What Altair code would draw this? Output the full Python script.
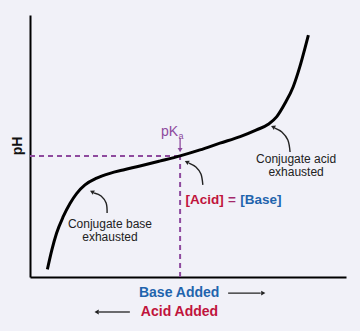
import altair as alt
import pandas as pd

# ---- data (x: amount added, 0-100 ; y: pH, 0-14) ----
curve_x = [5.5, 6.9, 8.4, 10.5, 12.7, 14.8, 17.4, 21.1, 25.3, 29.5, 34.8, 41.0, 47.5,
           53.8, 60.1, 66.5, 71.7, 75.4, 78.1, 80.7, 83.3, 85.4, 87.0, 88.1]
curve_ph = [0.41, 1.44, 2.34, 3.22, 3.94, 4.47, 4.92, 5.28, 5.54, 5.72, 5.93, 6.19, 6.47,
            6.79, 7.15, 7.50, 7.86, 8.16, 8.57, 9.28, 10.17, 11.24, 12.22, 12.93]

pka_x = 47.5
pka_ph = 6.47

arrow_ids = ["base"] * 4 + ["acid"] * 4 + ["mid"] * 4
arrow_order = [0, 1, 2, 3] * 3
arrow_x = [24.4, 24.1, 22.5, 20.3, 82.3, 81.6, 79.7, 77.5, 54.7, 54.1, 52.5, 50.3]
arrow_ph = [3.42, 3.95, 4.33, 4.49, 6.68, 7.32, 7.75, 7.96, 4.92, 5.50, 5.88, 6.09]

head_x = [19.8, 77.1, 49.8, 47.5, 73.6, 21.3]
head_ph = [4.54, 8.01, 6.13, 6.82, -0.86, -1.87]
head_angle = [295, 295, 295, 180, 90, 270]
head_color = ["#222222", "#222222", "#222222", "#8e4a9e", "#222222", "#222222"]

note_text = ["Conjugate base", "exhausted", "Conjugate acid", "exhausted"]
note_x = [25.3, 25.3, 84.2, 84.2]
note_ph = [2.83, 2.14, 6.31, 5.61]

eq_text = ["[Acid]", "=", "[Base]"]
eq_x = [61.3, 63.9, 66.5]
eq_align = ["right", "center", "left"]
eq_ph = [4.10, 4.10, 4.10]
eq_color = ["#c0143c", "#a3286b", "#1f64ad"]

bottom_text = ["Base Added", "Acid Added"]
bottom_x = [47.2, 47.3]
bottom_ph = [-0.86, -1.87]
bottom_color = ["#1f64ad", "#c0143c"]

bottom_arrow_x = [62.7, 31.6]
bottom_arrow_x2 = [73.0, 21.8]
bottom_arrow_ph = [-0.86, -1.87]

PURPLE = "#8e4a9e"
FONT = "Liberation Sans"

xs = alt.Scale(domain=[0, 100], nice=False, zero=False)
ys = alt.Scale(domain=[0, 14], nice=False, zero=False)
ax_x = alt.Axis(domain=True, domainColor="black", domainWidth=2, ticks=False, labels=False, grid=False, title=None)
ax_y = alt.Axis(domain=True, domainColor="black", domainWidth=2, ticks=False, labels=False, grid=False, title=None)

curve_df = pd.DataFrame({"x": curve_x, "ph": curve_ph})
curve = alt.Chart(curve_df).mark_line(color="black", strokeWidth=3, interpolate="monotone").encode(
    x=alt.X("x:Q", scale=xs, axis=ax_x),
    y=alt.Y("ph:Q", scale=ys, axis=ax_y),
)

dash_h = alt.Chart(pd.DataFrame({"x": [0], "x2": [pka_x], "ph": [pka_ph]})).mark_rule(
    color=PURPLE, strokeWidth=2, strokeDash=[5, 4]
).encode(x=alt.X("x:Q", scale=xs), x2="x2:Q", y=alt.Y("ph:Q", scale=ys))

dash_v = alt.Chart(pd.DataFrame({"x": [pka_x], "ph": [0], "ph2": [pka_ph]})).mark_rule(
    color=PURPLE, strokeWidth=2, strokeDash=[5, 4]
).encode(x=alt.X("x:Q", scale=xs), y=alt.Y("ph:Q", scale=ys), y2="ph2:Q")

pka_stem = alt.Chart(pd.DataFrame({"x": [pka_x], "ph": [7.43], "ph2": [6.86]})).mark_rule(
    color=PURPLE, strokeWidth=1.3
).encode(x=alt.X("x:Q", scale=xs), y=alt.Y("ph:Q", scale=ys), y2="ph2:Q")

pk_text = alt.Chart(pd.DataFrame({"x": [46.9], "ph": [7.75], "t": ["pK"]})).mark_text(
    color=PURPLE, fontSize=14, font=FONT, baseline="middle", align="right"
).encode(x=alt.X("x:Q", scale=xs), y=alt.Y("ph:Q", scale=ys), text="t:N")

a_text = alt.Chart(pd.DataFrame({"x": [47.0], "ph": [7.55], "t": ["a"]})).mark_text(
    color=PURPLE, fontSize=9, font=FONT, baseline="middle", align="left"
).encode(x=alt.X("x:Q", scale=xs), y=alt.Y("ph:Q", scale=ys), text="t:N")

arrows_df = pd.DataFrame({"id": arrow_ids, "o": arrow_order, "x": arrow_x, "ph": arrow_ph})
arrows = alt.Chart(arrows_df).mark_line(color="#222222", strokeWidth=1.4, interpolate="cardinal").encode(
    x=alt.X("x:Q", scale=xs), y=alt.Y("ph:Q", scale=ys), detail="id:N", order="o:Q"
)

heads_df = pd.DataFrame({"x": head_x, "ph": head_ph, "a": head_angle, "c": head_color})
heads = alt.Chart(heads_df).mark_point(shape="triangle", filled=True, size=24, opacity=1).encode(
    x=alt.X("x:Q", scale=xs), y=alt.Y("ph:Q", scale=ys),
    angle=alt.Angle("a:Q", scale=None), color=alt.Color("c:N", scale=None),
)

notes_df = pd.DataFrame({"t": note_text, "x": note_x, "ph": note_ph})
notes = alt.Chart(notes_df).mark_text(color="#222222", fontSize=12, font=FONT).encode(
    x=alt.X("x:Q", scale=xs), y=alt.Y("ph:Q", scale=ys), text="t:N"
)

eq_layers = []
for t, x, al, p, c in zip(eq_text, eq_x, eq_align, eq_ph, eq_color):
    eq_layers.append(
        alt.Chart(pd.DataFrame({"t": [t], "x": [x], "ph": [p]})).mark_text(
            fontSize=13.5, fontWeight="bold", font=FONT, align=al, color=c
        ).encode(x=alt.X("x:Q", scale=xs), y=alt.Y("ph:Q", scale=ys), text="t:N")
    )

bottom_df = pd.DataFrame({"t": bottom_text, "x": bottom_x, "ph": bottom_ph, "c": bottom_color})
bottom = alt.Chart(bottom_df).mark_text(fontSize=14, fontWeight="bold", font=FONT).encode(
    x=alt.X("x:Q", scale=xs), y=alt.Y("ph:Q", scale=ys), text="t:N", color=alt.Color("c:N", scale=None)
)

barrow_df = pd.DataFrame({"x": bottom_arrow_x, "x2": bottom_arrow_x2, "ph": bottom_arrow_ph})
barrows = alt.Chart(barrow_df).mark_rule(color="#222222", strokeWidth=1.3).encode(
    x=alt.X("x:Q", scale=xs), x2="x2:Q", y=alt.Y("ph:Q", scale=ys)
)

ph_label = alt.Chart(pd.DataFrame({"x": [-3.8], "ph": [7.0], "t": ["pH"]})).mark_text(
    fontSize=14, fontWeight="bold", font=FONT, angle=270, color="#111111"
).encode(x=alt.X("x:Q", scale=xs), y=alt.Y("ph:Q", scale=ys), text="t:N")

chart = alt.layer(
    dash_h, dash_v, curve, pka_stem, pk_text, a_text, arrows, heads, notes, *eq_layers, bottom, barrows, ph_label
).properties(
    width=316, height=262,
    autosize=alt.AutoSizeParams(type="none"),
    padding={"left": 30, "top": 15, "right": 14, "bottom": 54},
    background="#f1f1f8",
).configure_view(stroke=None)

chart.save("out.html", embed_options={"renderer": "svg", "actions": False})
